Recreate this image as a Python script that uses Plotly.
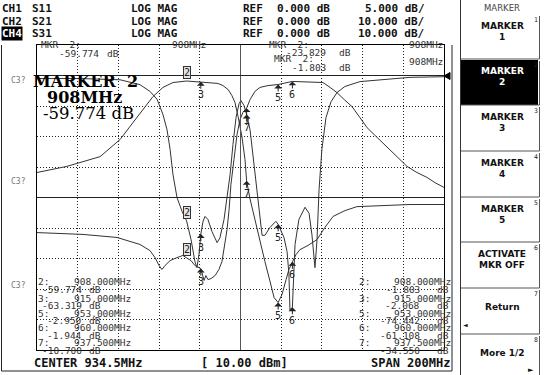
import plotly.graph_objects as go

# ---------------- data (MHz, dB) ----------------
FREQ_START = 834.5
FREQ_STOP = 1034.5

s21_freq = [834.5, 849.2, 865.5, 875.3, 881.7, 886.6, 891.5, 896.4, 901.3, 908.0, 915.0, 919.5,
            923.4, 925.9, 928.4, 930.3, 931.8, 933.3, 935.2, 936.7, 937.5, 939.2, 941.6, 944.1,
            946.5, 949.0, 951.0, 953.0, 954.9, 956.9, 958.3, 960.0, 961.8, 963.7, 967.7, 972.1,
            976.0, 980.0, 985.8, 991.7, 1003.0, 1017.8, 1034.5]
s21_db = [-31.8, -29.8, -26.6, -21.0, -15.4, -11.1, -6.9, -3.9, -2.3, -1.803, -2.068, -2.3,
          -2.6, -3.3, -4.6, -6.6, -8.9, -13.4, -20.0, -27.5, -34.55, -40.5, -47.5, -53.8,
          -61.0, -67.5, -72.8, -74.442, -71.8, -66.9, -63.6, -61.108, -58.7, -57.1, -55.7, -53.8,
          -49.8, -46.2, -44.3, -43.0, -42.6, -42.3, -42.3]

s31_freq = [834.5, 845.8, 857.1, 873.8, 885.1, 890.0, 892.5, 894.5, 895.9, 897.4, 899.9, 903.3,
            906.2, 908.0, 910.2, 912.1, 915.0, 916.6, 917.5, 918.5, 920.0, 922.0, 923.9, 925.4,
            926.9, 927.9, 928.9, 929.8, 931.3, 932.8, 934.3, 935.7, 937.5, 939.2, 941.6, 944.1,
            948.0, 953.0, 960.0, 963.7, 971.1, 975.0, 978.5, 981.9, 985.5, 989.3, 993.2, 996.7,
            1001.6, 1006.5, 1011.4, 1016.3, 1021.2, 1026.1, 1030.0, 1034.5]
s31_db = [-51.5, -51.8, -52.1, -53.1, -55.4, -57.4, -59.7, -62.3, -63.6, -62.3, -60.7, -59.7,
          -59.0, -59.774, -60.7, -62.3, -63.319, -67.2, -65.6, -66.9, -66.6, -65.6, -63.6, -61.0,
          -55.4, -50.5, -43.9, -35.7, -27.5, -19.3, -14.4, -12.1, -10.7, -7.9, -5.2, -3.9,
          -3.3, -2.95, -1.944, -2.0, -2.0, -2.3, -3.9, -5.6, -7.9, -10.2, -13.8, -17.1,
          -20.3, -23.3, -26.6, -29.8, -31.8, -33.4, -35.1, -36.7]

s11_freq = [834.5, 855.6, 875.3, 885.1, 890.0, 893.5, 896.4, 898.4, 899.9, 901.3, 903.3, 905.8,
            908.0, 910.2, 912.1, 913.1, 914.1, 915.0, 916.1, 917.1, 918.5, 920.5, 923.0, 924.4,
            926.4, 927.9, 929.4, 930.8, 932.3, 933.8, 934.7, 936.2, 937.5, 939.2, 940.6, 942.1,
            943.6, 945.1, 946.5, 949.0, 951.9, 953.0, 955.9, 957.4, 958.3, 958.8, 960.0, 960.3,
            961.3, 963.2, 966.2, 968.2, 969.6, 971.1, 972.1, 973.1, 974.5, 976.5, 979.0, 981.9,
            985.8, 993.2, 1003.0, 1017.8, 1034.5]
s11_db = [-0.5, -0.5, -0.7, -1.5, -2.6, -3.9, -6.4, -8.9, -12.1, -16.2, -20.0, -22.3,
          -23.829, -26.9, -30.5, -31.5, -29.3, -26.0, -23.9, -23.1, -23.6, -25.6, -27.4, -26.6,
          -23.6, -20.3, -16.2, -11.3, -6.9, -4.6, -4.1, -4.9, -6.4, -8.9, -13.0, -17.9,
          -22.8, -26.2, -26.2, -24.9, -23.9, -24.4, -26.6, -28.9, -32.6, -38.4, -38.0, -35.1,
          -27.7, -23.6, -21.6, -22.6, -26.1, -31.5, -26.9, -18.7, -12.1, -6.9, -4.3, -2.8,
          -1.8, -1.0, -0.7, -0.3, -0.2]

marker_ids = [2, 3, 5, 6, 7]
marker_freq = [908.0, 915.0, 953.0, 960.0, 937.5]
marker_freq_text = ["908.000MHz", "915.000MHz", "953.000MHz", "960.000MHz", "937.500MHz"]
s31_mkr_db = [-59.774, -63.319, -2.950, -1.944, -10.700]
s21_mkr_db = [-1.803, -2.068, -74.442, -61.108, -34.550]
s11_mkr_db = [-23.829, -26.0, -24.4, -38.0, -6.4]

ch_names = ["CH1", "CH2", "CH4"]
ch_params = ["S11", "S21", "S31"]
ch_formats = ["LOG MAG", "LOG MAG", "LOG MAG"]
ch_refs = ["0.000 dB", "0.000 dB", "0.000 dB"]
ch_scales = ["5.000 dB/", "10.000 dB/", "10.000 dB/"]

softkey_title = "MARKER"
softkeys = [("MARKER", "1"), ("MARKER", "2"), ("MARKER", "3"), ("MARKER", "4"),
            ("MARKER", "5"), ("ACTIVATE", "MKR OFF"), ("Return", ""), ("More 1/2", "")]

# ---------------- layout helpers ----------------
W, H = 544, 375
L, R, T, B = 37, 444, 45, 350
MONO = "DejaVu Sans Mono"


def px(x):
    return (x - L) / (R - L)


def py(y):
    return (B - y) / (B - T)


ann = []
shapes = []


def text(x, y, s, size=10, xa="left", family=MONO, color="#111", bold=False, ya="middle", **kw):
    d = dict(x=px(x), y=py(y), xref="paper", yref="paper",
             text=("<b>%s</b>" % s) if bold else s, showarrow=False,
             xanchor=xa, yanchor=ya, borderpad=0,
             font=dict(family=family, size=size, color=color))
    d.update(kw)
    ann.append(d)


def line(x0, y0, x1, y1, color="#000", width=1):
    shapes.append(dict(type="line", xref="paper", yref="paper", x0=px(x0), y0=py(y0),
                       x1=px(x1), y1=py(y1), line=dict(color=color, width=width), layer="above"))


def rect(x0, y0, x1, y1, fill):
    shapes.append(dict(type="rect", xref="paper", yref="paper", x0=px(x0), y0=py(y0),
                       x1=px(x1), y1=py(y1), fillcolor=fill, line=dict(width=0), layer="below"))


fig = go.Figure()
TRC = "#333333"
fig.add_trace(go.Scatter(x=s21_freq, y=s21_db, mode="lines", line=dict(color=TRC, width=1), yaxis="y"))
fig.add_trace(go.Scatter(x=s31_freq, y=s31_db, mode="lines", line=dict(color=TRC, width=1), yaxis="y"))
fig.add_trace(go.Scatter(x=s11_freq, y=s11_db, mode="lines", line=dict(color=TRC, width=1), yaxis="y2"))

# solid reference / centre lines
shapes.append(dict(type="line", xref="x", yref="paper", x0=934.5, x1=934.5, y0=0, y1=1,
                   line=dict(color="#555", width=1)))
for v in (0, -40):
    shapes.append(dict(type="line", xref="paper", yref="y", x0=0, x1=1, y0=v, y1=v,
                       line=dict(color="#222", width=1)))
# reference position arrow at right edge
shapes.append(dict(type="path", xref="paper", yref="paper",
                   path="M %f %f L %f %f L %f %f Z" % (px(444), py(76), px(450), py(72.5), px(450), py(79.5)),
                   fillcolor="#000", line=dict(color="#000", width=1)))


# markers on traces
def mk(freqs, vals, yref):
    for n, f, v in zip(marker_ids, freqs, vals):
        if n == 2:
            ann.append(dict(x=f, y=v, xref="x", yref=yref, text="2", showarrow=False,
                            xanchor="center", yanchor="bottom", yshift=2,
                            font=dict(family=MONO, size=10, color="#222"),
                            bordercolor="#333", borderwidth=1, borderpad=0, bgcolor="#e4e4e4"))
        else:
            ann.append(dict(x=f, y=v, xref="x", yref=yref, text=str(n), showarrow=True,
                            ax=0, ay=13, arrowhead=1, arrowsize=1.3, arrowwidth=1,
                            arrowcolor="#222", standoff=0,
                            font=dict(family=MONO, size=10, color="#222"), borderpad=0))


mk(marker_freq, s21_mkr_db, "y")
mk(marker_freq, s31_mkr_db, "y")
mk(marker_freq, s11_mkr_db, "y2")

# header
rows_y = [9, 21, 33]
for i in range(3):
    y = rows_y[i]
    if i == 2:
        text(1, y, ch_names[i], size=11, bold=True, color="#fff", bgcolor="#000")
    else:
        text(1, y, ch_names[i], size=11, bold=True)
    text(31, y, ch_params[i], size=11, bold=True)
    text(130, y, ch_formats[i], size=11, bold=True)
    text(242, y, "REF", size=11, bold=True)
    text(276, y, ch_refs[i], size=11, bold=True)
    text(426, y, ch_scales[i], size=11, bold=True, xa="right")

# marker readouts at top
RD = "#333"
text(40, 44, "MKR  2:", size=9.5, color=RD)
text(100, 53, "%.3f" % s31_mkr_db[0], size=9.5, xa="right", color=RD)
text(106, 53, "dB", size=9.5, color=RD)
text(207, 44, "908MHz", size=9.5, xa="right", color=RD)
text(268, 44, "MKR  2:", size=9.5, color=RD)
text(327, 52, "%.3f" % s11_mkr_db[0], size=9.5, xa="right", color=RD)
text(338, 52, "dB", size=9.5, color=RD)
text(444, 44, "908MHz", size=9.5, xa="right", color=RD)
text(273, 59, "MKR  2:", size=9.5, color=RD)
text(327, 67, "%.3f" % s21_mkr_db[0], size=9.5, xa="right", color=RD)
text(338, 67, "dB", size=9.5, color=RD)
text(444, 62, "908MHz", size=9.5, xa="right", color=RD)

# big marker text
text(32, 81, "<b>MARKER  2</b>", size=16, family="DejaVu Serif", color="#000")
text(46, 98, "<b>908MHz</b>", size=16, family="DejaVu Serif", color="#000")
text(42, 113, "%.3f dB" % s31_mkr_db[0], size=16.5, family="DejaVu Serif", color="#000")

# C3? labels
for y in (80, 181, 285):
    text(10, y, "C3?", size=8, color="#777")

# marker lists at bottom
list_y = [281, 289, 298, 305.5, 313, 320, 327.5, 335, 342.5, 350]
for k in range(5):
    y1, y2 = list_y[2 * k], list_y[2 * k + 1]
    text(37, y1, "%d:" % marker_ids[k], size=9.5, color=RD)
    text(132, y1, marker_freq_text[k], size=9.5, xa="right", color=RD)
    text(83, y2, "%.3f" % s31_mkr_db[k], size=9.5, xa="right", color=RD)
    text(88, y2, "dB", size=9.5, color=RD)
    text(358, y1, "%d:" % marker_ids[k], size=9.5, color=RD)
    text(452, y1, marker_freq_text[k], size=9.5, xa="right", color=RD)
    text(421, y2, "%.3f" % s21_mkr_db[k], size=9.5, xa="right", color=RD)
    text(436, y2, "dB", size=9.5, color=RD)

# bottom annotation line
text(33, 363, "CENTER 934.5MHz", size=12, bold=True)
text(244, 363, "[ 10.00 dBm]", size=12, bold=True, xa="center")
text(451, 363, "SPAN 200MHz", size=12, bold=True, xa="right")

# outer frame around the display
line(1.5, 45, 1.5, 371, color="#222")
line(1.5, 371, 452, 371, color="#222")
line(452, 45, 452, 371, color="#222")

# softkey panel
text(502, 8, softkey_title, size=8.5, family="DejaVu Sans", color="#444", xa="center")
line(460.5, 0, 460.5, 375, color="#333")
btn_edges = [14, 59, 105, 151, 197, 242, 288, 334, 375]
for i, (l1, l2) in enumerate(softkeys):
    top, bot = btn_edges[i], btn_edges[i + 1]
    active = (i == 1)
    if active:
        rect(461, top + 1, 538, bot, "#000")
    col = "#fff" if active else "#111"
    if i < 6:
        text(502, top + 12, l1, size=9, family="DejaVu Sans", bold=True, color=col, xa="center")
        text(502, top + 23, l2, size=9, family="DejaVu Sans", bold=True, color=col, xa="center")
    elif i == 6:
        text(502, top + 19, l1, size=9, family="DejaVu Sans", bold=True, color=col, xa="center")
        text(466, top + 36, "◄", size=6, family="DejaVu Sans", color="#111", xa="center")
    else:
        text(502, top + 19, l1, size=9, family="DejaVu Sans", bold=True, color=col, xa="center")
        text(531, top + 36, "►", size=7, family="DejaVu Sans", color="#111", xa="center")
    text(536, top + 6, "%d" % (i + 1), size=6.5, family=MONO, color="#222", xa="center")
    line(539.5, top + 2, 539.5, bot, color="#555")
    if i < 7:
        line(461, bot, 539.5, bot, color="#555")

fig.update_layout(
    width=W, height=H,
    margin=dict(l=L, r=W - R, t=T, b=H - B, pad=0),
    paper_bgcolor="#fff", plot_bgcolor="#fff",
    showlegend=False,
    xaxis=dict(range=[FREQ_START, FREQ_STOP], showticklabels=False, ticks="", tick0=FREQ_START, dtick=20,
               showgrid=True, gridcolor="#222", griddash="1px,2px", gridwidth=1, zeroline=False,
               showline=True, mirror=True, linecolor="#000", linewidth=1),
    yaxis=dict(range=[-90, 10], showticklabels=False, ticks="", dtick=10, tick0=0,
               showgrid=True, gridcolor="#222", griddash="1px,2px", gridwidth=1, zeroline=False,
               showline=True, mirror=True, linecolor="#000", linewidth=1),
    yaxis2=dict(range=[-45, 5], overlaying="y", visible=False),
    annotations=ann,
    shapes=shapes,
)

fig.write_html("out.html", config={"displayModeBar": False},
               post_script="document.body.style.margin='0';document.body.style.padding='0';")
